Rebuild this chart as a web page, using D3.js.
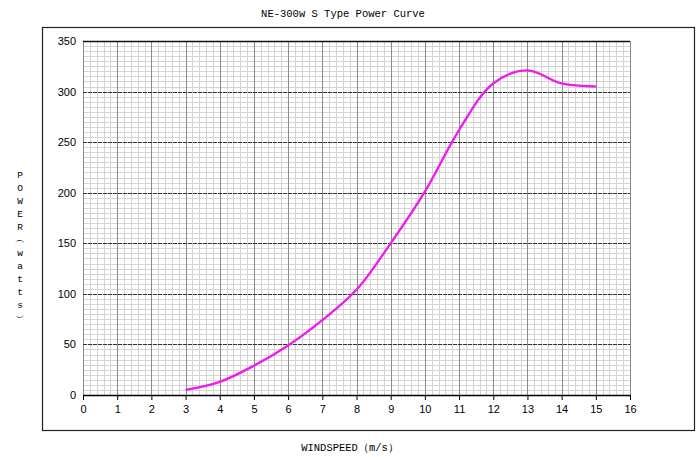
<!DOCTYPE html>
<html><head><meta charset="utf-8">
<script src="https://cdn.jsdelivr.net/npm/d3@7"></script>
<style>body{margin:0;background:#fff}</style>
</head><body>
<svg id="c" width="700" height="457"></svg>
<script>
const windSpeed = [3,4,5,6,7,8,9,10,11,12,13,14,15];
const power = [5,13,29,49,74,104,150,201,262,308,321,308,305];
const xTicks = d3.range(0,17,1);
const yTicks = [0,50,100,150,200,250,300,350];
const title = "NE-300w S Type Power Curve";
const xLabel = "WINDSPEED\uFF08m/s\uFF09";
const yLabelChars = ["P","O","W","E","R","\uFE35","w","a","t","t","s","\uFE36"];

const svg = d3.select("#c");
const x = d3.scaleLinear().domain([0,16]).range([83,630]);
const y = d3.scaleLinear().domain([0,350]).range([395,41]);
const mono = "'Liberation Mono', 'DejaVu Sans Mono', monospace";
const sans = "'Liberation Sans', Arial, sans-serif";

svg.append("rect").attr("x",42.5).attr("y",27.5).attr("width",652).attr("height",403)
  .attr("fill","none").attr("stroke","#222").attr("stroke-width",1.2);

svg.append("text").attr("x",343).attr("y",17).attr("text-anchor","middle")
  .attr("font-family",mono).attr("font-size",10.5).text(title);

const g = svg.append("g");
g.selectAll("line.mv").data(d3.range(0,80.5,1).map(i=>i*0.2)).join("line")
  .attr("x1",d=>Math.round(x(d))+0.5).attr("x2",d=>Math.round(x(d))+0.5)
  .attr("y1",y(350)).attr("y2",y(0)).attr("stroke","#d4d4d4").attr("stroke-width",1);
g.selectAll("line.mh").data(d3.range(0,70.5,1).map(i=>i*5)).join("line")
  .attr("x1",x(0)).attr("x2",x(16))
  .attr("y1",d=>Math.round(y(d))+0.5).attr("y2",d=>Math.round(y(d))+0.5)
  .attr("stroke","#d4d4d4").attr("stroke-width",1);
g.selectAll("line.Mv").data(xTicks).join("line")
  .attr("x1",d=>Math.round(x(d))+0.5).attr("x2",d=>Math.round(x(d))+0.5)
  .attr("y1",y(350)).attr("y2",y(0)).attr("stroke","#8a8a8a").attr("stroke-width",1);
g.selectAll("line.Mh").data(yTicks.slice(1)).join("line")
  .attr("x1",x(0)).attr("x2",x(16))
  .attr("y1",d=>Math.round(y(d))+0.5).attr("y2",d=>Math.round(y(d))+0.5)
  .attr("stroke","#333").attr("stroke-width",1).attr("stroke-dasharray","4,1");
g.append("line").attr("x1",x(0)).attr("x2",x(16)).attr("y1",Math.round(y(350))+0.5).attr("y2",Math.round(y(350))+0.5)
  .attr("stroke","#111").attr("stroke-width",1.3);

const xa = svg.append("g").attr("transform",`translate(0,${y(0)})`)
  .call(d3.axisBottom(x).tickValues(xTicks).tickSize(5).tickSizeOuter(0).tickFormat(d3.format("d")));
xa.select(".domain").attr("stroke","#000").attr("stroke-width",1.3);
xa.selectAll(".tick line").attr("stroke","#000");
xa.selectAll("text").attr("font-family",sans).attr("font-size",11).attr("fill","#000").attr("dy","0.9em");

const ya = svg.append("g").attr("transform",`translate(${x(0)},0)`)
  .call(d3.axisLeft(y).tickValues(yTicks).tickSize(0).tickPadding(7));
ya.select(".domain").remove();
ya.selectAll("text").attr("font-family",sans).attr("font-size",11).attr("fill","#000");

const line = d3.line().x((d,i)=>x(windSpeed[i])).y(d=>y(d)).curve(d3.curveCatmullRom.alpha(0.5));
svg.append("path").datum(power).attr("d",line).attr("fill","none")
  .attr("stroke","#ee1aee").attr("stroke-width",2.3);

svg.append("text").attr("x",350).attr("y",451).attr("text-anchor","middle")
  .attr("font-family",mono).attr("font-size",10.5).text(xLabel);
svg.append("g").selectAll("text").data(yLabelChars).join("text")
  .attr("x",20).attr("y",(d,i)=>178+i*13).attr("text-anchor","middle")
  .attr("font-family",mono).attr("font-size",9.5).text(d=>d);
</script>
</body></html>
